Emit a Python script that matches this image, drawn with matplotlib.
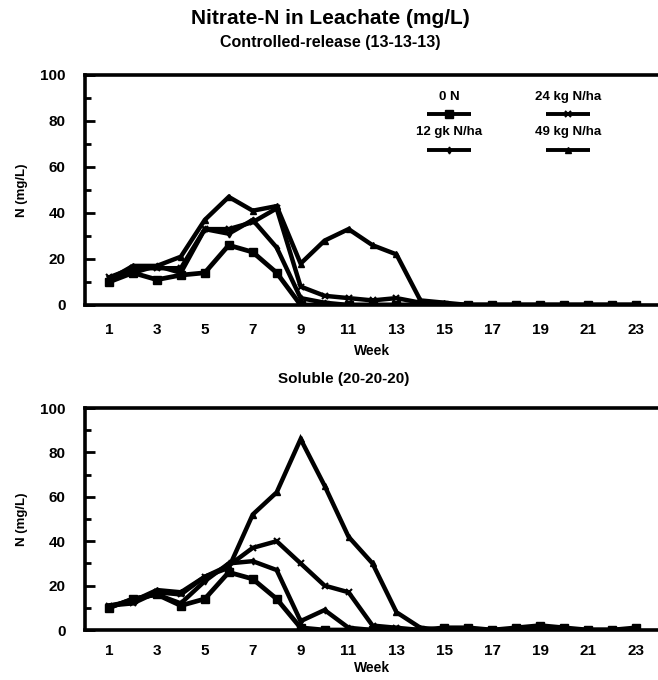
import matplotlib
matplotlib.use("Agg")
import matplotlib.pyplot as plt
from matplotlib.lines import Line2D
from matplotlib.ticker import MultipleLocator

plt.rcParams['font.family'] = ['Liberation Sans', 'DejaVu Sans']
plt.rcParams['font.weight'] = 'bold'

weeks = list(range(1, 24))
xtick_weeks = list(range(1, 24, 2))

series_names = ["0 N", "12 gk N/ha", "24 kg N/ha", "49 kg N/ha"]

# Controlled-release (13-13-13)
cr_0n  = [10, 14, 11, 13, 14, 26, 23, 14, 0, 0, 0, 0, 0, 0, 0, 0, 0, 0, 0, 0, 0, 0, 0]
cr_12  = [11, 14, 17, 14, 33, 31, 37, 25, 3, 1, 0, 0, 0, 0, 0, 0, 0, 0, 0, 0, 0, 0, 0]
cr_24  = [12, 16, 16, 16, 33, 33, 36, 42, 8, 4, 3, 2, 3, 1, 0, 0, 0, 0, 0, 0, 0, 0, 0]
cr_49  = [11, 17, 17, 21, 37, 47, 41, 43, 18, 28, 33, 26, 22, 2, 1, 0, 0, 0, 0, 0, 0, 0, 0]

# Soluble (20-20-20)
sol_0n = [10, 14, 16, 11, 14, 26, 23, 14, 1, 0, 0, 0, 0, 0, 1, 1, 0, 1, 2, 1, 0, 0, 1]
sol_12 = [10, 14, 16, 12, 22, 30, 31, 27, 4, 9, 1, 0, 0, 0, 0, 0, 0, 0, 0, 0, 0, 0, 0]
sol_24 = [11, 12, 17, 16, 24, 29, 37, 40, 30, 20, 17, 2, 1, 0, 0, 0, 0, 0, 0, 0, 0, 0, 0]
sol_49 = [11, 13, 18, 17, 24, 28, 52, 62, 86, 65, 42, 30, 8, 1, 0, 0, 0, 0, 0, 0, 0, 0, 0]

styles = [
    dict(marker='s', markersize=5.5, lw=3.4),
    dict(marker='d', markersize=3.5, lw=3.2),
    dict(marker='x', markersize=5, mew=1.5, lw=3.2),
    dict(marker='^', markersize=4, lw=3.2),
]

W, H = 658, 680
fig = plt.figure(figsize=(W / 100, H / 100), dpi=100)

def px_axes(left, top, right, bottom):
    return fig.add_axes([left / W, 1 - bottom / H, (right - left) / W, (bottom - top) / H])

ax1 = px_axes(85, 75, 660, 305)
ax2 = px_axes(85, 408, 660, 630)

def style_axes(ax, data, xpad, labelpad):
    for vals, st in zip(data, styles):
        ax.plot(weeks, vals, color='black', solid_joinstyle='miter', clip_on=True, **st)
    ax.set_xlim(0, 24)
    ax.set_ylim(0, 100)
    ax.yaxis.set_major_locator(MultipleLocator(20))
    ax.yaxis.set_minor_locator(MultipleLocator(10))
    ax.set_xticks(xtick_weeks)
    ax.tick_params(axis='y', which='major', direction='in', length=7, width=2, pad=14, labelsize=11)
    ax.tick_params(axis='y', which='minor', direction='in', length=4, width=2)
    ax.tick_params(axis='x', length=0, pad=xpad, labelsize=11)
    for lab in ax.get_xticklabels() + ax.get_yticklabels():
        lab.set_fontweight('bold')
    for side in ['left', 'bottom', 'top']:
        ax.spines[side].set_linewidth(2.6)
    ax.spines['right'].set_visible(False)
    ax.set_ylabel('N (mg/L)', fontsize=9.5, fontweight='bold', labelpad=9)
    ax.set_xlabel('Week', fontsize=10, fontweight='bold', labelpad=labelpad)

style_axes(ax1, [cr_0n, cr_12, cr_24, cr_49], 13, 5)
style_axes(ax2, [sol_0n, sol_12, sol_24, sol_49], 10, 2)

# Legend (text above sample line), two columns
leg_cols = [0.633, 0.84]
leg_rows_text = [0.905, 0.752]
leg_rows_line = [0.83, 0.675]
half = 0.038
for i, (name, st) in enumerate(zip(series_names, styles)):
    col = [0, 0, 1, 1][i]
    row = [0, 1, 0, 1][i]
    cx = leg_cols[col]
    ax1.text(cx, leg_rows_text[row], name, transform=ax1.transAxes, ha='center', va='center',
             fontsize=9.5, fontweight='bold')
    ax1.add_line(Line2D([cx - half, cx + half], [leg_rows_line[row]] * 2, transform=ax1.transAxes,
                        color='black', lw=2.8, solid_capstyle='butt'))
    mst = {k: v for k, v in st.items() if k != 'lw'}
    ax1.add_line(Line2D([cx], [leg_rows_line[row]], transform=ax1.transAxes, color='black',
                        linestyle='none', **mst))

fig.text(330 / W, 1 - 19 / H, 'Nitrate-N in Leachate (mg/L)', ha='center', va='center',
         fontsize=15, fontweight='bold')
fig.text(330 / W, 1 - 42 / H, 'Controlled-release (13-13-13)', ha='center', va='center',
         fontsize=11.5, fontweight='bold')
fig.text(344 / W, 1 - 379 / H, 'Soluble (20-20-20)', ha='center', va='center',
         fontsize=11, fontweight='bold')

fig.savefig('out.png', dpi=100)
